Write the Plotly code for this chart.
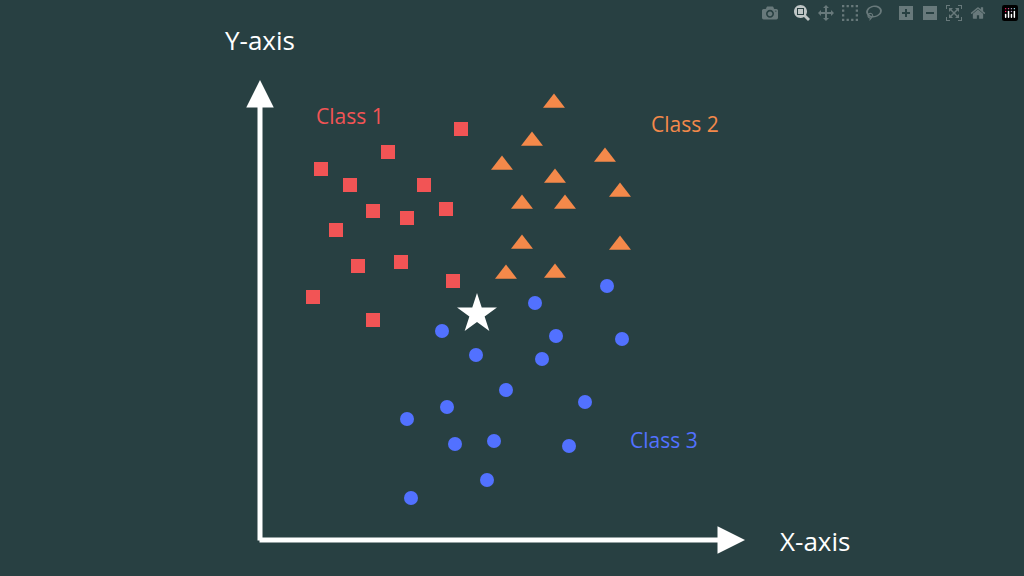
import plotly.graph_objects as go

# point positions (x right, y up, in a 1024x576 frame)
c1_x = [461, 388, 321, 350, 424, 373, 407, 446, 336, 358, 401, 453, 313, 373]
c1_y = [129, 152, 169, 185, 185, 211, 218, 209, 230, 266, 262, 281, 297, 320]
c2_x = [554, 532, 502, 605, 555, 620, 522, 565, 522, 620, 506, 555]
c2_y = [103, 141, 165, 157, 178, 192, 204, 204, 244, 245, 274, 273]
c3_x = [535, 607, 442, 556, 622, 476, 542, 506, 585, 407, 447, 455, 494, 569, 487, 411]
c3_y = [303, 286, 331, 336, 339, 355, 359, 390, 402, 419, 407, 444, 441, 446, 480, 498]
new_x = [477]
new_y = [314]

H = 576
flip = lambda ys: [H - v for v in ys]

bg = "#284042"
red, orange, blue = "#f25455", "#f4894a", "#5271ff"

fig = go.Figure()
fig.add_trace(go.Scatter(x=c1_x, y=flip(c1_y), mode="markers",
                         marker=dict(symbol="square", size=14, color=red)))
fig.add_trace(go.Scatter(x=c2_x, y=flip(c2_y), mode="markers",
                         marker=dict(symbol="triangle-up", size=19, color=orange)))
fig.add_trace(go.Scatter(x=c3_x, y=flip(c3_y), mode="markers",
                         marker=dict(symbol="circle", size=14, color=blue)))
fig.add_trace(go.Scatter(x=new_x, y=flip(new_y), mode="markers",
                         marker=dict(symbol="star", size=30, color="white")))

# axis arrows
arrow = dict(showarrow=True, arrowhead=2, arrowsize=1.1, arrowwidth=5,
             arrowcolor="white", axref="x", ayref="y", text="")
fig.add_annotation(x=260, y=H - 80, ax=260, ay=H - 542, **arrow)
fig.add_annotation(x=745, y=H - 540, ax=258, ay=H - 540, **arrow)

labels = [("Y-axis", 260, 40, "white", 26), ("X-axis", 815, 541, "white", 26),
          ("Class 1", 350, 116, red, 21), ("Class 2", 685, 124, orange, 21),
          ("Class 3", 664, 440, blue, 21)]
for t, x, y, c, s in labels:
    fig.add_annotation(x=x, y=H - y, text=t, showarrow=False,
                       font=dict(color=c, size=s, family="Open Sans"))

fig.update_xaxes(range=[0, 1024], visible=False)
fig.update_yaxes(range=[0, H], visible=False)
fig.update_layout(width=1024, height=576, margin=dict(l=0, r=0, t=0, b=0),
                  paper_bgcolor=bg, plot_bgcolor=bg, showlegend=False)
fig.write_html("out.html",
               post_script="document.body.style.margin='0';"
                           "document.body.style.background='#284042';")
